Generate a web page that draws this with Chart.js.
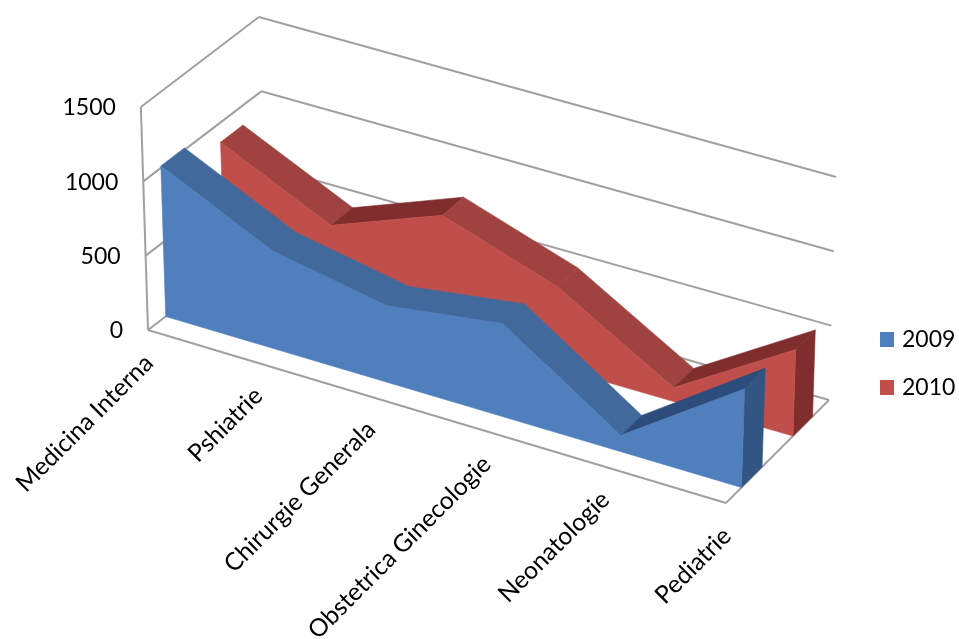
<!DOCTYPE html>
<html>
<head>
<meta charset="utf-8">
<title>Chart</title>
<script src="https://cdn.jsdelivr.net/npm/chart.js@4/dist/chart.umd.js"></script>
<style>
  html, body { margin: 0; padding: 0; background: #fff; }
  canvas { display: block; }
</style>
</head>
<body>
<canvas id="chart" width="959" height="639"></canvas>
<script>
const categories = ['Medicina Interna', 'Pshiatrie', 'Chirurgie Generala', 'Obstetrica Ginecologie', 'Neonatologie', 'Pediatrie'];
const values2009 = [1013, 659, 516, 625, 108, 665];
const values2010 = [870, 520, 803, 545, 93, 582];
const yTicks = [0, 500, 1000, 1500];
const seriesNames = ['2009', '2010'];

const FONT = '23px Lato';
const LABEL_FONT = '24.6px Lato';
const GRID = '#a0a0a0';

// front and back position of each series inside the floor (0 = front edge, 1 = back wall)
const depths = [[0.15, 0.35], [0.65, 0.84]];
const colors = [
  { face: '#4f7fbd', top: '#41699c', rise: '#2c4d7c', side: '#325681' },
  { face: '#c04f4c', top: '#a04240', rise: '#7f2e2d', side: '#7f2e2d' }
];

// chart pixel + depth -> picture pixel, with a little perspective
function project(chart, px, py, d) {
  const area = chart.chartArea;
  const w = area.right - area.left;
  const t = (px - area.left) / w;
  const fx = px - 0.065 * t * (1 - t) * w;
  const lean = -0.032 + 0.064 * t;
  return {
    x: fx + d * (118 - 15 * t) + lean * (area.bottom - py),
    y: py + 0.2993 * (fx - area.left) - d * (90 + 13 * t)
  };
}

function poly(ctx, pts, fill) {
  ctx.beginPath();
  pts.forEach((p, i) => i ? ctx.lineTo(p.x, p.y) : ctx.moveTo(p.x, p.y));
  ctx.closePath();
  ctx.fillStyle = fill;
  ctx.fill();
  // hides the thin seams between faces
  ctx.strokeStyle = fill;
  ctx.lineWidth = 0.6;
  ctx.stroke();
}

function line(ctx, a, b) {
  ctx.beginPath();
  ctx.moveTo(a.x, a.y);
  ctx.lineTo(b.x, b.y);
  ctx.stroke();
}

const box3d = {
  id: 'box3d',
  beforeDatasetsDraw(chart) {
    const ctx = chart.ctx;
    const { left, right, bottom } = chart.chartArea;
    const y = chart.scales.y;
    ctx.save();
    ctx.strokeStyle = GRID;
    ctx.lineWidth = 2;
    ctx.lineJoin = 'round';
    // wall lines
    yTicks.forEach(v => {
      const py = y.getPixelForValue(v);
      const a = project(chart, left, py, 0);
      const b = project(chart, left, py, 1);
      const c = project(chart, right, py, 1);
      line(ctx, a, b);
      line(ctx, b, c);
    });
    // front edges of the box
    line(ctx, project(chart, left, y.getPixelForValue(1500), 0), project(chart, left, bottom, 0));
    line(ctx, project(chart, left, bottom, 0), project(chart, right, bottom, 0));
    line(ctx, project(chart, right, bottom, 0), project(chart, right, bottom, 1));
    ctx.restore();
  },
  beforeDatasetDraw(chart, args) {
    const ctx = chart.ctx;
    const pts = args.meta.data;
    const [d0, d1] = depths[args.index];
    const c = colors[args.index];
    const data = chart.data.datasets[args.index].data;
    const base = chart.scales.y.getPixelForValue(0);
    const last = pts.length - 1;
    ctx.save();
    // top ribbon
    for (let i = 0; i < last; i++) {
      const a = pts[i], b = pts[i + 1];
      poly(ctx, [
        project(chart, a.x, a.y, d0), project(chart, b.x, b.y, d0),
        project(chart, b.x, b.y, d1), project(chart, a.x, a.y, d1)
      ], data[i + 1] - data[i] > 200 ? c.rise : c.top);
    }
    // right end
    const e = pts[last];
    poly(ctx, [
      project(chart, e.x, e.y, d0), project(chart, e.x, e.y, d1),
      project(chart, e.x, base, d1), project(chart, e.x, base, d0)
    ], c.side);
    // front face
    const face = pts.map(p => project(chart, p.x, p.y, d0));
    face.push(project(chart, e.x, base, d0), project(chart, pts[0].x, base, d0));
    poly(ctx, face, c.face);
    ctx.restore();
  },
  afterDraw(chart) {
    const ctx = chart.ctx;
    const { left, bottom } = chart.chartArea;
    const x = chart.scales.x;
    const y = chart.scales.y;
    ctx.save();
    ctx.font = FONT;
    ctx.fillStyle = '#000';
    ctx.textBaseline = 'middle';
    // value labels
    ctx.textAlign = 'right';
    yTicks.forEach(v => {
      const py = y.getPixelForValue(v);
      const p = project(chart, left, py, 0);
      ctx.fillText(String(v), p.x - 25, py + 1);
    });
    // category labels
    ctx.font = LABEL_FONT;
    categories.forEach((name, i) => {
      const p = project(chart, x.getPixelForValue(i), bottom, 0);
      ctx.save();
      ctx.translate(p.x + 1, p.y + 29);
      ctx.rotate(-Math.PI / 4);
      ctx.fillText(name, 0, 0);
      ctx.restore();
    });
    // legend
    ctx.font = FONT;
    ctx.textAlign = 'left';
    seriesNames.forEach((name, i) => {
      const top = 332 + i * 48;
      ctx.fillStyle = colors[i].face;
      ctx.fillRect(880, top, 14, 15);
      ctx.fillStyle = '#000';
      ctx.fillText(name, 902, top + 8);
    });
    ctx.restore();
  }
};

new Chart(document.getElementById('chart'), {
  type: 'line',
  data: {
    labels: categories,
    datasets: [
      { label: seriesNames[0], data: values2009, showLine: false, pointRadius: 0, fill: false },
      { label: seriesNames[1], data: values2010, showLine: false, pointRadius: 0, fill: false }
    ]
  },
  options: {
    responsive: false,
    animation: false,
    events: [],
    layout: { padding: { left: 148, right: 233, top: 107, bottom: 309 } },
    scales: {
      x: { display: false },
      y: { display: false, min: 0, max: 1500 }
    },
    plugins: { legend: { display: false }, tooltip: { enabled: false } }
  },
  plugins: [box3d]
});
</script>
</body>
</html>
